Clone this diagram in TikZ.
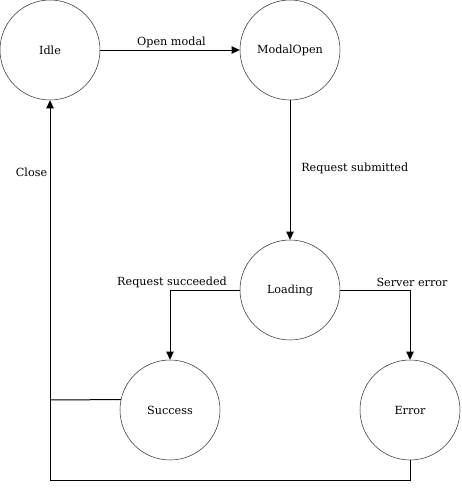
\documentclass[tikz,border=0pt]{standalone}
\usepackage{fontspec}
\setmainfont{DejaVu Serif}
\usetikzlibrary{arrows.meta}
\begin{document}
\begin{tikzpicture}[
        x=0.75pt,y=-0.75pt
        ,state/.style={draw=black!80,circle,minimum size=75pt,inner sep=0pt,font=\fontsize{8.4}{10}\selectfont}
        ,edge/.style={draw=black,line width=0.75pt,-{Triangle[length=6pt,width=5.5pt]}}
        ,wire/.style={draw=black,line width=0.75pt}
        ,lbl/.style={font=\fontsize{8.4}{10}\selectfont,inner sep=0pt}
    ]
    \useasboundingbox (0,0) rectangle (461,489);
    % Состояния
    \node[state] (idle) at (50,50) {Idle};
    \node[state] (modal) at (290,50) {ModalOpen};
    \node[state] (loading) at (290,290) {Loading};
    \node[state] (success) at (170,410) {Success};
    \node[state] (error) at (410,410) {Error};
    % Точки изломов
    \coordinate (succL) at (50,400);
    \coordinate (errB) at (410,480);
    \coordinate (idleB) at (50,480);
    % Переходы
    \draw[edge] (idle) -- (modal);
    \draw[edge] (modal) -- (loading);
    \draw[edge] (loading.west) -| (success.north);
    \draw[edge] (loading.east) -| (error.north);
    \draw[wire] (success.168.5) -- (succL);
    \draw[edge] (error.south) -- (errB) -- (idleB) -- (idle.south);
    % Подписи
    \node[lbl] (lopen) at (171.5,42) {Open modal};
    \node[lbl,anchor=west] (lsubm) at (301,168) {Request submitted};
    \node[lbl] (lsucc) at (172,282) {Request succeeded};
    \node[lbl] (lerr) at (412,282) {Server error};
    \node[lbl] (lclose) at (31.5,172) {Close};
\end{tikzpicture}
\end{document}
